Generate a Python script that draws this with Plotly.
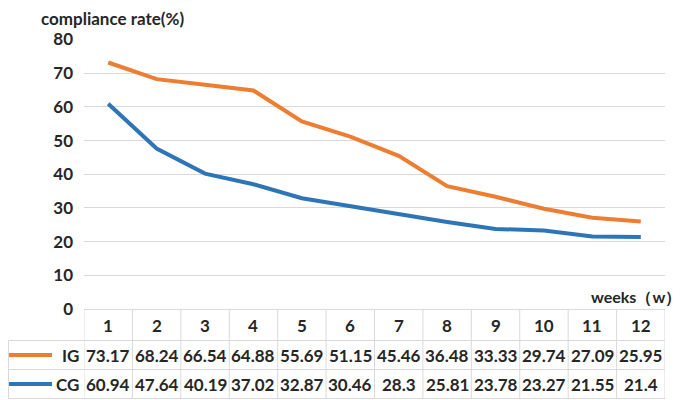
import plotly.graph_objects as go

weeks = [1, 2, 3, 4, 5, 6, 7, 8, 9, 10, 11, 12]
ig_rate = [73.17, 68.24, 66.54, 64.88, 55.69, 51.15, 45.46, 36.48, 33.33, 29.74, 27.09, 25.95]
cg_rate = [60.94, 47.64, 40.19, 37.02, 32.87, 30.46, 28.3, 25.81, 23.78, 23.27, 21.55, 21.4]
y_ticks = [0, 10, 20, 30, 40, 50, 60, 70, 80]

# the page body has an 8px margin, so the figure is drawn 8px smaller
# and all window positions below are shifted by that offset
OFF = 8
W, H = 685 - OFF, 400 - OFF
FONT = "Lato"
TXT = "#262626"
GRID = "#D9D9D9"
ORANGE = "#ED7D31"
BLUE = "#2E75B6"


def px(x):
    return (x - OFF) / W


def py(y):
    return 1 - (y - OFF) / H


fig = go.Figure()
fig.add_scatter(x=weeks, y=ig_rate, mode="lines", name="IG",
                line=dict(color=ORANGE, width=4))
fig.add_scatter(x=weeks, y=cg_rate, mode="lines", name="CG",
                line=dict(color=BLUE, width=4))

# table grid
left, right = 84, 665
top, r1, r2, bottom = 309.5, 340.5, 369.5, 398.5
shapes = []
for yy, x0 in [(top, left), (r1, 8.5), (r2, 8.5), (bottom, 8.5)]:
    shapes.append(dict(type="line", xref="paper", yref="paper",
                       x0=px(x0), x1=px(right), y0=py(yy), y1=py(yy),
                       line=dict(color=GRID, width=1)))
shapes.append(dict(type="line", xref="paper", yref="paper",
                   x0=px(8.5), x1=px(8.5), y0=py(r1), y1=py(bottom),
                   line=dict(color=GRID, width=1)))
for i in range(len(weeks) + 1):
    shapes.append(dict(type="line", xref="x", yref="paper",
                       x0=0.5 + i, x1=0.5 + i, y0=py(top), y1=py(bottom),
                       line=dict(color=GRID, width=1)))
# legend keys in the table
for yy, c in [(355, ORANGE), (384, BLUE)]:
    shapes.append(dict(type="line", xref="paper", yref="paper",
                       x0=px(9), x1=px(52), y0=py(yy), y1=py(yy),
                       line=dict(color=c, width=4)))

ann = []
cell_font = dict(family=FONT, size=17, color=TXT, weight="bold")
for w, a, b in zip(weeks, ig_rate, cg_rate):
    for text, yy in [(str(w), 325), (f"{a:g}", 355), (f"{b:g}", 384)]:
        ann.append(dict(x=w, y=py(yy), xref="x", yref="paper", text=text,
                        xanchor="center", yanchor="middle",
                        showarrow=False, font=cell_font))
for name, yy in [("IG", 355), ("CG", 384)]:
    ann.append(dict(x=px(81), y=py(yy), xref="paper", yref="paper", text=name,
                    xanchor="right", yanchor="middle", showarrow=False,
                    font=cell_font))
ann.append(dict(x=px(40), y=py(19), xref="paper", yref="paper",
                text="compliance rate(%)", xanchor="left", yanchor="middle",
                showarrow=False, borderpad=0,
                font=dict(family=FONT, size=17, color=TXT, weight="bold")))
ann.append(dict(x=px(683), y=py(297), xref="paper", yref="paper",
                text="weeks（w）", xanchor="right", yanchor="middle",
                showarrow=False,
                font=dict(family=FONT, size=16, color=TXT, weight="bold")))

fig.update_layout(
    width=W, height=H,
    margin=dict(l=0, r=0, t=0, b=0, autoexpand=False),
    paper_bgcolor="white", plot_bgcolor="white",
    showlegend=False,
    shapes=shapes, annotations=ann,
    xaxis=dict(domain=[px(left), px(right)], range=[0.5, 12.5],
               showgrid=False, showticklabels=False, zeroline=False,
               fixedrange=True),
    yaxis=dict(domain=[py(309), py(39.5)], range=[0, 80], tickvals=y_ticks,
               showgrid=True, gridcolor=GRID, gridwidth=1, zeroline=False,
               ticklabelstandoff=10,
               tickfont=dict(family=FONT, size=17, color=TXT, weight="bold")),
)

fig.write_html("out.html")
